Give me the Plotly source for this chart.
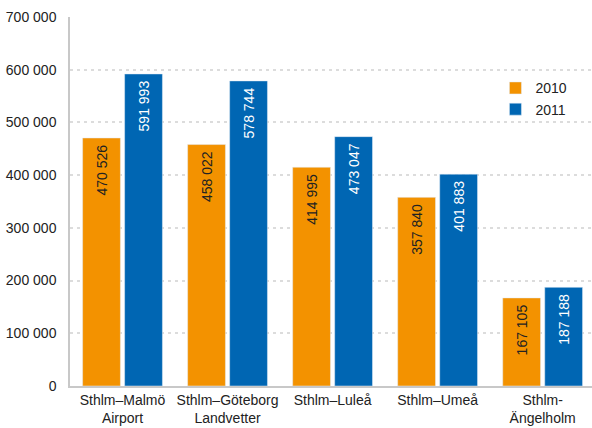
import plotly.graph_objects as go

routes = ["Sthlm–Malmö<br>Airport", "Sthlm–Göteborg<br>Landvetter", "Sthlm–Luleå",
          "Sthlm–Umeå", "Sthlm-<br>Ängelholm"]
passengers_2010 = [470526, 458022, 414995, 357840, 167105]
passengers_2011 = [591993, 578744, 473047, 401883, 187188]
y_ticks = [0, 100000, 200000, 300000, 400000, 500000, 600000, 700000]

ORANGE = "#F39200"
BLUE = "#0066B3"


def fmt(v):
    return f"{v:,}".replace(",", " ") + "\u00a0"


fig = go.Figure()
fig.add_trace(go.Bar(
    name="2010", x=routes, y=passengers_2010, marker_color=ORANGE,
    text=[fmt(v) for v in passengers_2010], textposition="inside",
    insidetextanchor="end", textangle=-90, constraintext="none",
    textfont=dict(color="#222222", size=14),
))
fig.add_trace(go.Bar(
    name="2011", x=routes, y=passengers_2011, marker_color=BLUE,
    text=[fmt(v) for v in passengers_2011], textposition="inside",
    insidetextanchor="end", textangle=-90, constraintext="none",
    textfont=dict(color="#FFFFFF", size=14),
))

fig.update_layout(
    width=592, height=428,
    margin=dict(l=70, r=0, t=17, b=42),
    paper_bgcolor="white", plot_bgcolor="white",
    font=dict(family="Liberation Sans, Arial, sans-serif", size=14, color="#222222"),
    separators=", ",
    barmode="group", bargap=0.2, bargroupgap=0.1,
    showlegend=True,
    legend=dict(x=0.815, y=0.85, xanchor="left", yanchor="top",
                bgcolor="rgba(0,0,0,0)", font=dict(size=14),
                itemwidth=30, tracegroupgap=2),
)
fig.update_xaxes(
    showline=True, linecolor="#c8c8c8", linewidth=1.5,
    ticks="", showgrid=False, range=[-0.5, 4.47],
)
fig.update_yaxes(
    range=[0, 700000], tickvals=y_ticks, tickformat=",d",
    showgrid=True, gridcolor="#dcdcdc", griddash="3px,4px", gridwidth=1.5,
    showline=True, linecolor="#c8c8c8", linewidth=1.5,
    zeroline=False, ticks="", ticklabelstandoff=9,
)

fig.write_html("out.html")
